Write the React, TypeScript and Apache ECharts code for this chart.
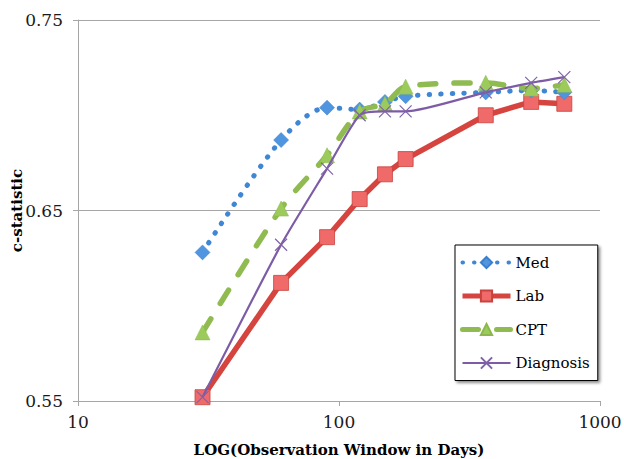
import React, { useEffect, useRef } from "react";
import * as echarts from "echarts";

const days = [30, 60, 90, 120, 150, 180, 365, 545, 730];
const medValues = [0.628, 0.687, 0.704, 0.703, 0.707, 0.710, 0.712, 0.713, 0.712];
const labValues = [0.552, 0.612, 0.636, 0.656, 0.669, 0.677, 0.700, 0.707, 0.706];
const cptValues = [0.586, 0.651, 0.679, 0.702, 0.706, 0.715, 0.717, 0.714, 0.716];
const diagValues = [0.552, 0.632, 0.672, 0.700, 0.702, 0.702, 0.712, 0.717, 0.720];
const yTicks = [0.55, 0.65, 0.75];
const xTicks = [10, 100, 1000];

const FONT = "DejaVu Serif";

function pairs(vals: number[]) {
  return days.map((d, i) => [d, vals[i]]);
}

export default function App() {
  const ref = useRef<HTMLDivElement>(null);
  useEffect(() => {
    if (!ref.current) return;
    const chart = echarts.init(ref.current, null, { renderer: "svg" });
    chart.setOption({
      animation: false,
      backgroundColor: "#ffffff",
      grid: { left: 78, right: 24, top: 20, bottom: 58, containLabel: false, outerBoundsMode: "none" },
      legend: {
        orient: "vertical",
        left: 455,
        top: 245,
        backgroundColor: "#ffffff",
        borderColor: "#000000",
        borderWidth: 1,
        shadowColor: "rgba(0,0,0,0.45)",
        shadowBlur: 3,
        shadowOffsetX: 2,
        shadowOffsetY: 2,
        padding: [10, 8, 10, 5],
        itemWidth: 48,
        itemHeight: 14,
        itemGap: 18.5,
        textStyle: { fontFamily: FONT, fontSize: 15, color: "#000" },
        data: [
          { name: "Med", lineStyle: { width: 4 } },
          { name: "Lab", lineStyle: { width: 5 } },
          { name: "CPT", lineStyle: { width: 5 } },
          { name: "Diagnosis", lineStyle: { width: 2 } },
        ],
      },
      xAxis: {
        type: "log",
        logBase: 10,
        min: 10,
        max: 1000,
        name: "LOG(Observation Window in Days)",
        nameLocation: "middle",
        nameGap: 41,
        nameMoveOverlap: false,
        nameTextStyle: { fontFamily: FONT, fontWeight: "bold", fontSize: 15, color: "#000" },
        axisLine: { lineStyle: { color: "#a6a6a6", width: 1 } },
        axisTick: { show: true, length: 5, lineStyle: { color: "#a6a6a6" } },
        minorTick: { show: false },
        splitLine: { show: false },
        axisLabel: {
          fontFamily: FONT,
          fontSize: 17,
          color: "#1a1a1a",
          margin: 12,
          customValues: xTicks,
          formatter: (v: number) => String(Math.round(v)),
        },
      },
      yAxis: {
        type: "value",
        min: 0.55,
        max: 0.75,
        interval: 0.05,
        name: "c-statistic",
        nameLocation: "middle",
        nameGap: 54,
        nameMoveOverlap: false,
        nameTextStyle: { fontFamily: FONT, fontWeight: "bold", fontSize: 15, color: "#000" },
        axisLine: { show: true, lineStyle: { color: "#a6a6a6", width: 1 } },
        axisTick: { show: true, length: 5, lineStyle: { color: "#a6a6a6" }, customValues: yTicks },
        splitLine: { show: true, lineStyle: { color: "#a6a6a6", width: 1 } },
        axisLabel: {
          fontFamily: FONT,
          fontSize: 17,
          color: "#1a1a1a",
          margin: 15,
          customValues: yTicks,
          formatter: (v: number) => v.toFixed(2),
        },
      },
      series: [
        {
          name: "Med",
          type: "line",
          data: pairs(medValues),
          smooth: 0.3,
          symbol: "diamond",
          symbolSize: 15,
          itemStyle: { color: "#4f95e0", borderColor: "#3a7fcc", borderWidth: 0.5 },
          lineStyle: { color: "#3f86d4", width: 5, type: [0.5, 11], cap: "round" },
          z: 4,
        },
        {
          name: "Lab",
          type: "line",
          data: pairs(labValues),
          symbol: "rect",
          symbolSize: 15,
          itemStyle: { color: "#f06a6a", borderColor: "#c8423e", borderWidth: 0.8 },
          lineStyle: { color: "#d6443f", width: 5.5 },
          z: 3,
        },
        {
          name: "CPT",
          type: "line",
          data: pairs(cptValues),
          smooth: 0.3,
          symbol: "triangle",
          symbolSize: 15,
          itemStyle: { color: "#9ccb5b", borderColor: "#8ab84d", borderWidth: 0.5 },
          lineStyle: { color: "#8fbb50", width: 5.5, type: [16, 18], cap: "round" },
          z: 5,
        },
        {
          name: "Diagnosis",
          type: "line",
          data: pairs(diagValues),
          smooth: 0.2,
          symbol: "path://M0,0L10,10M10,0L0,10",
          symbolSize: 12,
          itemStyle: { color: "rgba(0,0,0,0)", borderColor: "#8062a8", borderWidth: 1.2 },
          lineStyle: { color: "#7d5ca6", width: 2.2 },
          z: 6,
        },
      ],
    });
    return () => chart.dispose();
  }, []);
  return <div ref={ref} style={{ width: 624, height: 459, position: "absolute", left: 0, top: 0 }} />;
}
